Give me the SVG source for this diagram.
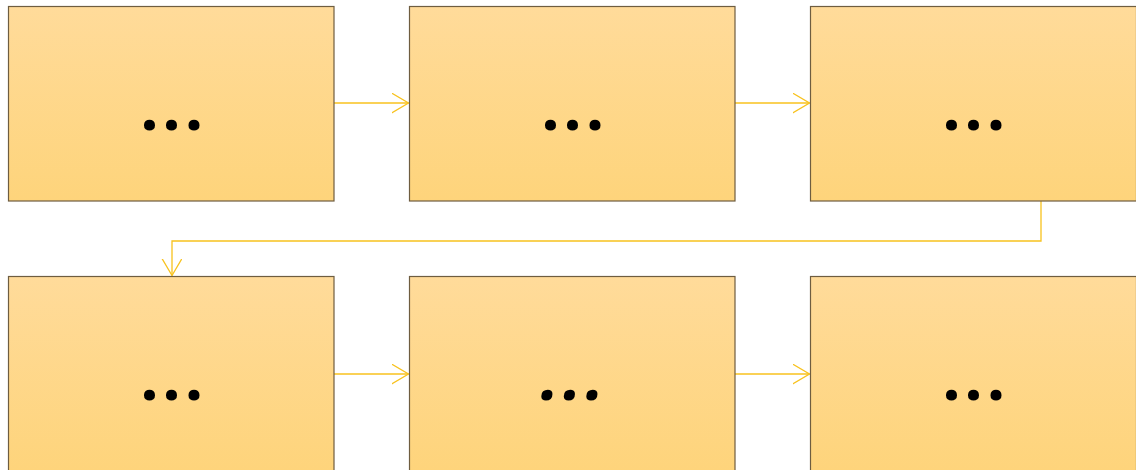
<svg xmlns="http://www.w3.org/2000/svg" width="1136" height="470" viewBox="0 0 1136 470">
<defs>
<linearGradient id="g" x1="0" y1="0" x2="0" y2="1">
<stop offset="0" stop-color="#ffdb9a"/>
<stop offset="1" stop-color="#fed47b"/>
</linearGradient>
<marker id="arr" markerWidth="20" markerHeight="22" refX="17" refY="10" orient="auto" markerUnits="userSpaceOnUse">
<path d="M0,0 L17,10 L0,20" fill="none" stroke="#f8c21e" stroke-width="1.3"/>
</marker>
<style>
.box{fill:url(#g);stroke:#6e5d40;stroke-width:1.2}
.dots{font-family:"Noto Sans","Open Sans",sans-serif;font-weight:bold;font-size:64px;fill:#000;text-anchor:middle}
.it{font-style:italic}
.c{fill:none;stroke:#f8c21e;stroke-width:1.3;marker-end:url(#arr)}
</style>
</defs>
<rect width="1136" height="470" fill="#fff"/>
<g id="connectors">
<path class="c" d="M334,103 H408.5"/>
<path class="c" d="M735,103 H809.5"/>
<path class="c" d="M1041,201 V241 H172 V275.5"/>
<path class="c" d="M334,374 H408.5"/>
<path class="c" d="M735,374 H809.5"/>
</g>
<g id="node1"><rect class="box" x="8.5" y="6.5" width="325.5" height="194.5"/><text class="dots" x="149.5 171.5 194" y="129.5">...</text></g>
<g id="node2"><rect class="box" x="409.5" y="6.5" width="325.5" height="194.5"/><text class="dots" x="550.5 572.5 595" y="129.5">...</text></g>
<g id="node3"><rect class="box" x="810.5" y="6.5" width="326" height="194.5"/><text class="dots" x="951.5 973.5 996" y="129.5">...</text></g>
<g id="node4"><rect class="box" x="8.5" y="276.5" width="325.5" height="195"/><text class="dots" x="149.5 171.5 194" y="399.5">...</text></g>
<g id="node5"><rect class="box" x="409.5" y="276.5" width="325.5" height="195"/><text class="dots it" x="550 572.5 595" y="399.5">...</text></g>
<g id="node6"><rect class="box" x="810.5" y="276.5" width="326" height="195"/><text class="dots" x="951.5 973.5 996" y="399.5">...</text></g>
</svg>
